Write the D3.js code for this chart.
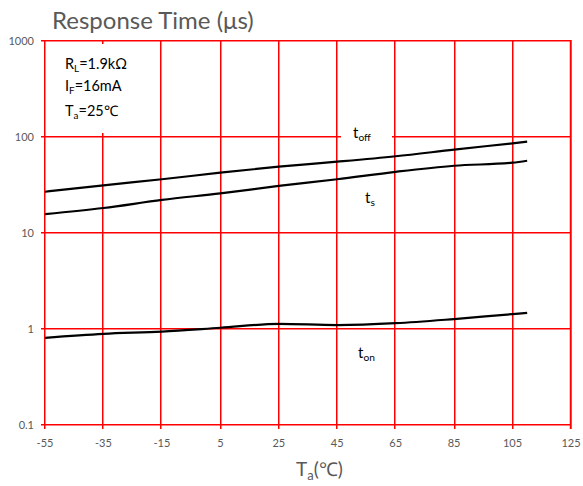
<!DOCTYPE html>
<html><head><meta charset="utf-8">
<script src="https://cdn.jsdelivr.net/npm/d3@7"></script>
<style>body{margin:0;background:#fff}svg{display:block}text{font-family:Lato,"Open Sans",sans-serif}</style>
</head><body>
<svg id="c" width="583" height="486"></svg>
<script>
const temps = [-55,-35,-15,5,25,45,65,85,105,110];
const tOff  = [26.9,31.4,36.3,42.5,49.1,55.3,63.0,73.8,86.0,89.4];
const tS    = [15.7,18.2,22.1,25.9,30.9,36.3,43.4,50.2,54.0,56.6];
const tOn   = [0.81,0.89,0.94,1.03,1.13,1.10,1.15,1.27,1.43,1.47];
const xTicks = [-55,-35,-15,5,25,45,65,85,105,125];
const yTicks = [0.1,1,10,100,1000];

const svg = d3.select("#c");
const L=45,R=571,T=41,B=425;
const x = d3.scaleLinear().domain([-55,125]).range([L,R]);
const y = d3.scaleLog().domain([0.1,1000]).range([B,T]);

const red="#ff0000";
const al = v => 2*Math.floor(v/2)+0.75;
const g = svg.append("g");
g.selectAll("line.v").data(xTicks).join("line").attr("class","v")
  .attr("x1",d=>al(x(d))).attr("x2",d=>al(x(d)))
  .attr("y1",T-1).attr("y2",B+4).attr("stroke",red).attr("stroke-width",d=>d===125?2:1.5);
g.selectAll("line.h").data(yTicks).join("line").attr("class","h")
  .attr("y1",d=>al(y(d))).attr("y2",d=>al(y(d)))
  .attr("x1",L-4).attr("x2",R).attr("stroke",red).attr("stroke-width",1.5);

svg.selectAll("text.xl").data(xTicks).join("text").attr("class","xl")
  .attr("x",d=>x(d)).attr("y",447).attr("text-anchor","middle")
  .attr("font-size",11).attr("fill","#595959").text(d=>d);
svg.selectAll("text.yl").data(yTicks).join("text").attr("class","yl")
  .attr("x",34).attr("y",d=>y(d)+4).attr("text-anchor","end")
  .attr("font-size",11).attr("fill","#595959").text(d=>d);

svg.append("rect").attr("x",47).attr("y",44).attr("width",112).attr("height",89).attr("fill","#fff");
svg.append("rect").attr("x",341).attr("y",127).attr("width",51).attr("height",18).attr("fill","#fff");

function ann(xp,yp,a,s,rest,fs){
  const t=svg.append("text").attr("x",xp).attr("y",yp).attr("font-size",fs).attr("fill","#000");
  t.append("tspan").text(a);
  t.append("tspan").attr("font-size",fs*0.68).attr("dy",3).text(s);
  if(rest) t.append("tspan").attr("dy",-3).text(rest);
}
ann(65,69,"R","L","=1.9kΩ",14.5);
ann(65,91,"I","F","=16mA",14.5);
ann(65,116,"T","a","=25℃",14.5);

ann(353,138,"t","off","",15);
ann(365,203,"t","s","",15);
ann(358,358,"t","on","",15);

svg.append("text").attr("x",52).attr("y",29).attr("font-size",24).attr("fill","#595959").text("Response Time (μs)");
const xt=svg.append("text").attr("x",296).attr("y",476).attr("font-size",19).attr("fill","#595959");
xt.append("tspan").text("T");
xt.append("tspan").attr("font-size",13).attr("dy",4).text("a");
xt.append("tspan").attr("dy",-4).text("(℃)");

const line = d3.line().x(d=>x(d[0])).y(d=>y(d[1])).curve(d3.curveMonotoneX);
[tOff,tS,tOn].forEach(s=>{
  svg.append("path").datum(temps.map((t,i)=>[t,s[i]])).attr("d",line)
    .attr("fill","none").attr("stroke","#000").attr("stroke-width",2.2);
});
</script>
</body></html>
